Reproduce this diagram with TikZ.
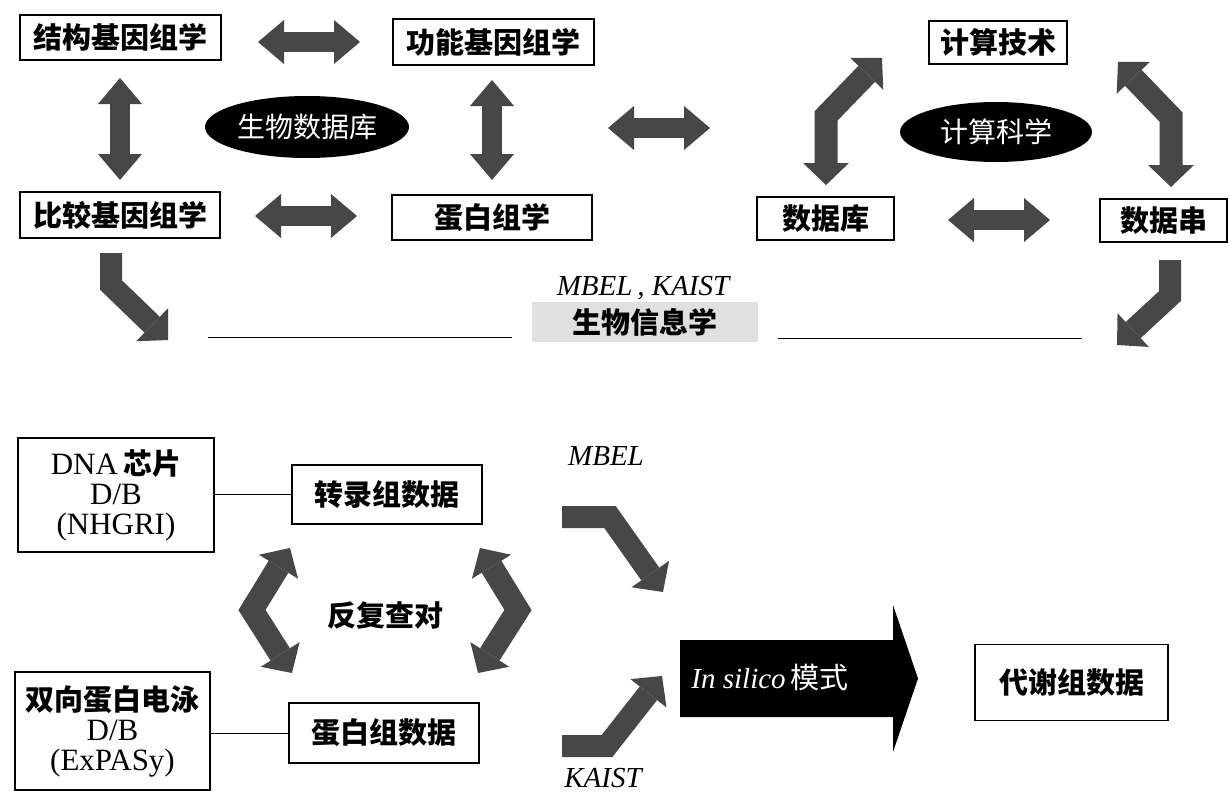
\documentclass[tikz,border=0pt]{standalone}
\usepackage{fontspec}
\setmainfont{Liberation Serif}
\newfontfamily\cjk{Noto Sans CJK SC}
\usetikzlibrary{arrows.meta,shapes.geometric,patterns}
\definecolor{arrowgray}{gray}{0.28}
\begin{document}
\begin{tikzpicture}[x=1pt,y=-1pt,
  box/.style={draw, line width=1.3pt, inner sep=0pt, align=center,
    font=\cjk\bfseries\fontsize{29}{30}\selectfont},
  oval/.style={ellipse, fill=black, text=white, inner sep=0pt,
    font=\cjk\fontsize{28}{30}\selectfont},
  tipA/.tip={Triangle[length=26pt,width=44pt,line width=0pt]},
  tipB/.tip={Triangle[length=22pt,width=46pt,line width=0pt]},
  fatdbl/.style={draw=arrowgray, line width=20pt, tipA-tipA},
  bentdbl/.style={draw=arrowgray, line width=23pt, line join=miter, tipB-tipB},
  bentone/.style={draw=arrowgray, line width=22pt, line join=miter, -tipB},
  lbl/.style={font=\itshape\fontsize{29}{30}\selectfont, inner sep=0pt},
  link/.style={draw, line width=1pt}
]
\useasboundingbox (0,0) rectangle (1229,792);
\fill[white] (0,0) rectangle (1229,792);

% ---------- top part ----------
\node[box, minimum width=201, minimum height=45] (jg) at (120.5,37.5) {结构基因组学};
\node[box, minimum width=201, minimum height=46] (gn) at (493.5,42) {功能基因组学};
\node[box, minimum width=200, minimum height=46] (bj) at (120,215) {比较基因组学};
\node[box, minimum width=200, minimum height=45] (dbx) at (492,217.5) {蛋白组学};
\node[box, minimum width=138, minimum height=43] (js) at (998,42.5) {计算技术};
\node[box, minimum width=137, minimum height=43] (sjk) at (825.5,218.5) {数据库};
\node[box, minimum width=127, minimum height=43] (sjc) at (1163.5,220.5) {数据串};

\node[oval, minimum width=204, minimum height=62] (swsjk) at (307,127) {生物数据库};
\node[oval, minimum width=192, minimum height=60] (jskx) at (996,132) {计算科学};

\draw[fatdbl] (258,42) -- (360,42);
\draw[fatdbl] (255,216) -- (357,216);
\draw[fatdbl] (608,128) -- (710,128);
\draw[fatdbl] (948,220) -- (1050,220);
\draw[fatdbl] (120,78) -- (120,180);
\draw[fatdbl] (492,80) -- (492,180);

\draw[bentdbl] (882,58) -- (826,116) -- (826,185);
\draw[bentdbl] (1118,62) -- (1171,117) -- (1171,187);

\draw[bentone] (111,253) -- (111,285) -- (168,340);
\draw[bentone] (1170,260) -- (1170,296) -- (1117,345);

\node[lbl] (mk) at (643,288) {MBEL\,, KAIST};
\node[fill=black!12, minimum width=226, minimum height=40, inner sep=0pt,
  font=\cjk\bfseries\fontsize{29}{30}\selectfont] (swxx) at (645,322) {生物信息学};
\draw[link] ([xshift=-20pt]swxx.west |- 0,337) -- (208,337);
\draw[link] ([xshift=20pt]swxx.east |- 0,338) -- (1082,338);

% ---------- bottom part ----------
\node[box, minimum width=196, minimum height=114, font=\fontsize{31}{30}\selectfont] (dna) at (116,495)
  {DNA\,{\cjk\bfseries\fontsize{29}{30}\selectfont 芯片}\\D/B\\(NHGRI)};
\node[box, minimum width=190, minimum height=59] (zl) at (387,494.5) {转录组数据};
\node[box, minimum width=195, minimum height=118, font=\fontsize{31}{30}\selectfont] (sx) at (112.5,731)
  {{\cjk\bfseries\fontsize{29}{30}\selectfont 双向蛋白电泳}\\D/B\\(ExPASy)};
\node[box, minimum width=190, minimum height=60] (dbz) at (384,733) {蛋白组数据};
\node[box, minimum width=193, minimum height=76] (dx) at (1071.5,682.5) {代谢组数据};

\draw[link] (dna.east |- zl.west) -- (zl.west);
\draw[link] (sx.east |- dbz.west) -- (dbz.west);

\node[font=\cjk\bfseries\fontsize{29}{30}\selectfont, inner sep=0pt] (ff) at (385,615) {反复查对};
\draw[bentdbl] (290,548) -- (252,610) -- (292,673);
\draw[bentdbl] (480,548) -- (518,610) -- (478,673);

\node[lbl] (mbel) at (606,456) {MBEL};
\node[lbl] (kaist) at (603,778) {KAIST};
\draw[bentone] (562,517) -- (610,517) -- (663,592);
\draw[bentone] (562,746) -- (607,746) -- (662,676);

\fill[black] (680,640) -- (893,640) -- (893,605) -- (918,678.5) -- (893,752)
  -- (893,717) -- (680,717) -- cycle;
\node[text=white, inner sep=0pt, font=\fontsize{29}{30}\selectfont] (insilico) at (770,678)
  {\textit{In silico}\,{\cjk 模式}};
\end{tikzpicture}
\end{document}
